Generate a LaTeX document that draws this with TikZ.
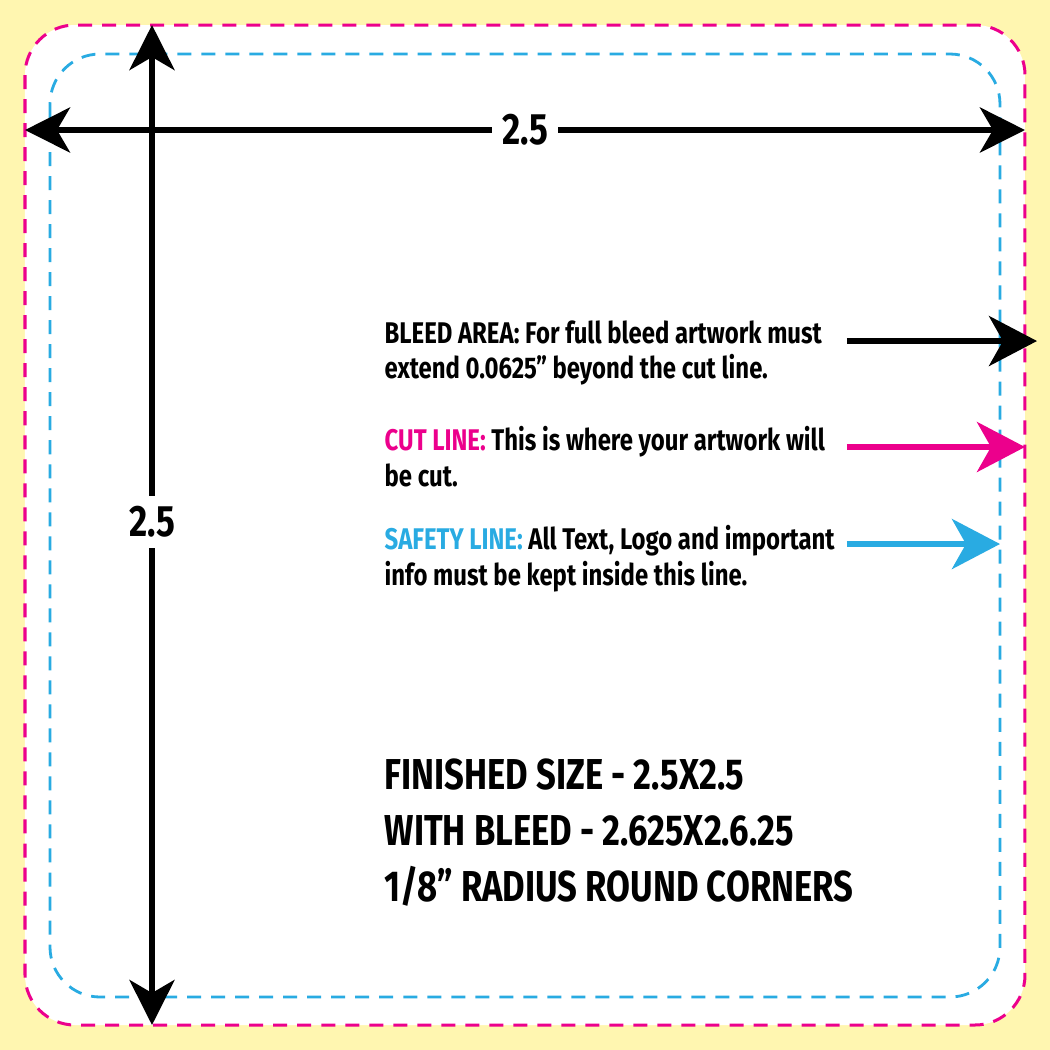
\documentclass[tikz,border=0pt]{standalone}
\usepackage{fontspec}
\setmainfont{Fira Sans}[FakeStretch=0.8]
\usepackage{tikz}
\usetikzlibrary{positioning,arrows.meta}
\definecolor{paper}{HTML}{FFF6B0}
\definecolor{cutpink}{HTML}{EC008C}
\definecolor{safeblue}{HTML}{29ABE2}
\tikzset{
  tip/.style={-{Stealth[length=0.48cm,width=0.5cm,inset=0.14cm]}},
  dimline/.style={line width=0.06cm, black, {Stealth[length=0.45cm,width=0.45cm,inset=0.13cm]}-{Stealth[length=0.45cm,width=0.45cm,inset=0.13cm]}},
  note/.style={anchor=north west, align=left, inner sep=0pt, font=\fontsize{8.5}{10}\selectfont\bfseries},
  dimlabel/.style={fill=white, inner sep=3pt, font=\fontsize{12.5}{14}\selectfont\bfseries}
}
\begin{document}
\begin{tikzpicture}[x=0.01cm, y=-0.01cm, line cap=butt]
                % background and white bleed area
                \fill[paper] (0,0) rectangle (1050,1050);
                \fill[white, rounded corners=0.5cm] (25,25) rectangle (1025,1025);
                % cut and safety lines
                \draw[cutpink, line width=0.03cm, dash pattern=on 0.14cm off 0.1cm, rounded corners=0.5cm] (25,25) rectangle (1025,1025);
                \draw[safeblue, line width=0.028cm, dash pattern=on 0.14cm off 0.1cm, rounded corners=0.5cm] (50,54) rectangle (1000,997);
                % dimensions
                \coordinate (hl) at (25,130);
                \coordinate (hr) at (1025,130);
                \coordinate (vt) at (152,25);
                \coordinate (vb) at (152,1025);
                \draw[dimline] (hl) -- (hr);
                \draw[dimline] (vt) -- (vb);
                \node[dimlabel] (wlab) at (525,130) {2.5};
                \node[dimlabel] (hlab) at (152,522) {2.5};
                % notes
                \node[note] (bleed) at (384,320) {BLEED AREA: For full bleed artwork must\\extend 0.0625” beyond the cut line.};
                \node[note] (cut) at (384,426) {\textcolor{cutpink}{CUT LINE:} This is where your artwork will\\be cut.};
                \node[note] (safe) at (384,525) {\textcolor{safeblue}{SAFETY LINE:} All Text, Logo and important\\info must be kept inside this line.};
                \coordinate (bleedend) at (1037,341);
                \coordinate (cutend) at (1025,447);
                \coordinate (safeend) at (1000,544);
                \draw[tip, line width=0.055cm, black] (847,341) -- (bleedend);
                \draw[tip, line width=0.055cm, cutpink] (847,447) -- (cutend);
                \draw[tip, line width=0.055cm, safeblue] (847,544) -- (safeend);
                % finished size
                \node[anchor=north west, align=left, inner sep=0pt, font=\fontsize{12.3}{16}\selectfont\bfseries] (size) at (384,758)
                  {FINISHED SIZE - 2.5X2.5\\WITH BLEED - 2.625X2.6.25\\1/8” RADIUS ROUND CORNERS};
\end{tikzpicture}
\end{document}
